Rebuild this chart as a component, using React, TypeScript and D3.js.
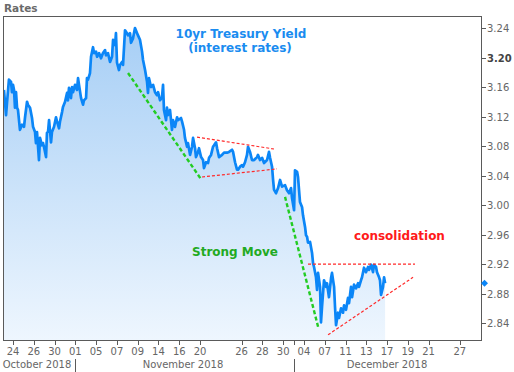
import React from 'react';
import * as d3 from 'd3';

// trading-day index (0 = Oct 24) and 10yr yield
const times = [-0.87,-0.67,-0.58,-0.39,-0.19,-0.10,0,0.10,0.19,0.29,0.39,0.48,0.67,0.87,1.06,1.16,1.35,1.44,1.64,1.83,1.93,2.12,2.21,2.31,2.50,2.60,2.79,2.89,2.98,3.18,3.27,3.37,3.47,3.66,3.75,3.95,4.14,4.24,4.43,4.52,4.72,4.81,5.01,5.20,5.29,5.39,5.58,5.68,5.78,5.97,6.16,6.26,6.35,6.55,6.74,6.83,7.03,7.12,7.22,7.41,7.51,7.70,7.80,7.99,8.09,8.28,8.47,8.66,8.86,8.95,9.14,9.34,9.53,9.63,9.82,9.91,10.01,10.20,10.30,10.49,10.59,10.78,10.97,11.07,11.26,11.36,11.55,11.74,11.94,12.03,12.22,12.42,12.51,12.71,12.90,12.99,13.09,13.28,13.48,13.67,13.86,13.96,14.15,14.34,14.44,14.53,14.73,14.82,14.92,15.11,15.30,15.40,15.59,15.79,15.88,16.17,16.27,16.46,16.55,16.75,16.84,17.04,17.23,17.33,17.52,17.61,17.81,17.90,18.10,18.29,18.38,18.58,18.77,18.87,19.06,19.25,19.35,19.54,19.64,19.83,20.12,20.31,20.60,20.79,21.08,21.18,21.37,21.56,21.66,21.85,22.04,22.14,22.33,22.52,22.62,22.81,23.00,23.20,23.49,23.58,23.77,23.97,24.16,24.45,24.64,24.74,24.93,25.03,25.12,25.31,25.51,25.70,25.89,26.18,26.37,26.57,26.76,26.85,27.05,27.14,27.34,27.43,27.62,27.82,27.91,28.11,28.20,28.30,28.39,28.59,28.78,28.88,28.97,29.16,29.26,29.36,29.55,29.64,29.74,29.93,30.13,30.22,30.41,30.61,30.70,30.90,30.99,31.09,31.28,31.38,31.57,31.76,31.86,32.05,32.24,32.34,32.53,32.63,32.82,33.01,33.21,33.30,33.49,33.59,33.78,33.97,34.17,34.26,34.46,34.65,34.74,34.94,35.03,35.23,35.32,35.42,35.61,35.71,35.81];
const yields = [3.156,3.122,3.138,3.170,3.167,3.153,3.163,3.156,3.132,3.153,3.132,3.129,3.102,3.109,3.106,3.119,3.140,3.136,3.132,3.118,3.106,3.099,3.084,3.099,3.061,3.091,3.081,3.084,3.079,3.065,3.098,3.099,3.115,3.085,3.099,3.106,3.119,3.113,3.104,3.113,3.126,3.133,3.140,3.152,3.142,3.159,3.145,3.160,3.153,3.163,3.156,3.172,3.163,3.145,3.136,3.142,3.145,3.172,3.170,3.179,3.201,3.214,3.206,3.208,3.201,3.206,3.199,3.206,3.210,3.203,3.206,3.194,3.201,3.224,3.217,3.233,3.193,3.183,3.190,3.194,3.190,3.237,3.233,3.230,3.233,3.220,3.226,3.240,3.233,3.230,3.224,3.208,3.197,3.183,3.167,3.152,3.172,3.160,3.163,3.153,3.149,3.153,3.142,3.146,3.163,3.129,3.115,3.132,3.122,3.129,3.102,3.115,3.106,3.119,3.115,3.118,3.113,3.102,3.091,3.079,3.084,3.068,3.079,3.091,3.077,3.065,3.072,3.077,3.065,3.061,3.050,3.058,3.057,3.064,3.068,3.079,3.081,3.085,3.077,3.065,3.068,3.071,3.071,3.072,3.075,3.072,3.058,3.048,3.048,3.052,3.054,3.052,3.058,3.068,3.079,3.072,3.061,3.061,3.065,3.068,3.061,3.064,3.057,3.061,3.072,3.064,3.052,3.034,3.021,3.016,3.023,3.034,3.025,3.027,3.020,3.016,3.023,3.010,2.993,3.047,3.045,3.038,3.004,2.997,2.986,2.970,2.959,2.957,2.949,2.950,2.935,2.921,2.916,2.902,2.885,2.908,2.889,2.841,2.862,2.898,2.889,2.894,2.875,2.901,2.908,2.889,2.862,2.837,2.854,2.847,2.860,2.854,2.864,2.858,2.874,2.867,2.889,2.875,2.892,2.887,2.894,2.889,2.898,2.902,2.915,2.909,2.916,2.912,2.919,2.909,2.919,2.916,2.909,2.902,2.898,2.878,2.889,2.902,2.894];

const yTicks = [2.84, 2.88, 2.92, 2.96, 3.0, 3.04, 3.08, 3.12, 3.16, 3.2, 3.24];
const boldTick = 3.2;
const xTickPos = [0, 2, 4, 6, 8, 10, 12, 14, 16, 18, 22, 24, 26, 28, 30, 32, 34, 36, 38, 40, 43];
const xTickLabels = ['24', '26', '30', '01', '05', '07', '09', '14', '16', '20', '26', '28', '30', '04', '07', '11', '13', '17', '19', '21', '27'];
const xExtraTicks = [27];
const monthLabels = ['October 2018', 'November 2018', 'December 2018'];
const monthCenters = [2.31, 16.36, 36.0];
const monthStarts = [6, 27];

// annotation segments: [t1, v1, t2, v2]
const greenLines = [
  [11.07, 3.179, 18.1, 3.035],
  [26.18, 3.011, 29.36, 2.835],
];
const redLines = [
  [17.71, 3.092, 25.12, 3.076],
  [18.19, 3.038, 25.41, 3.049],
  [28.39, 2.92, 38.69, 2.92],
  [30.32, 2.824, 38.5, 2.902],
];

const W = 514;
const H = 372;
const L = 4, R = 481, T = 16, B = 340;
const FONT = "'DejaVu Sans', Verdana, sans-serif";

export default function App() {
  const x = d3.scaleLinear().domain([-0.866, 45.04]).range([L, R]);
  const y = d3.scaleLinear().domain([2.817, 3.2563]).range([B, T]);
  const pts = times.map((t, i) => [t, yields[i]] as [number, number]);
  const line = d3.line<[number, number]>().x(d => x(d[0])).y(d => y(d[1]));
  const area = d3.area<[number, number]>().x(d => x(d[0])).y0(B).y1(d => y(d[1]));
  const last = yields[yields.length - 1];
  const dy = y(last);

  return (
    <svg width={W} height={H} style={{ position: 'absolute', left: 0, top: 0, background: '#fff' }}>
      <defs>
        <linearGradient id="fillg" gradientUnits="userSpaceOnUse" x1="0" y1={T} x2="0" y2={B}>
          <stop offset="0" stopColor="#a4cdf5" />
          <stop offset="1" stopColor="#eef6fe" />
        </linearGradient>
        <clipPath id="plotclip">
          <rect x={L} y={T} width={R - L} height={B - T} />
        </clipPath>
      </defs>
      <text x={4} y={12} fontFamily={FONT} fontWeight="bold" fontSize={10.5} fill="#6a6a6a">Rates</text>

      <g clipPath="url(#plotclip)">
        <path d={area(pts) || ''} fill="url(#fillg)" />
        <path d={line(pts) || ''} fill="none" stroke="#0b86f7" strokeWidth={2.7} strokeLinejoin="round" />
        {greenLines.map((s, i) => (
          <line key={'g' + i} x1={x(s[0])} y1={y(s[1])} x2={x(s[2])} y2={y(s[3])}
            stroke="#22cc22" strokeWidth={2.4} strokeDasharray="4,2.5" />
        ))}
        {redLines.map((s, i) => (
          <line key={'r' + i} x1={x(s[0])} y1={y(s[1])} x2={x(s[2])} y2={y(s[3])}
            stroke="#ff2a2a" strokeWidth={1.2} strokeDasharray="3,2" />
        ))}
      </g>

      <rect x={L - 0.5} y={T + 0.5} width={R - L + 1} height={B - T} fill="none" stroke="#5a5a5a" strokeWidth={1} />

      {yTicks.map(v => (
        <g key={'y' + v}>
          <line x1={R + 0.5} x2={R + 5} y1={Math.round(y(v)) + 0.5} y2={Math.round(y(v)) + 0.5} stroke="#5a5a5a" />
          <text x={487} y={y(v) + 4} fontFamily={FONT} fontSize={10} fill={v === boldTick ? '#444' : '#666'}
            fontWeight={v === boldTick ? 'bold' : 'normal'}>{v.toFixed(2)}</text>
        </g>
      ))}
      <path d={`M${R},${dy} l3.5,-3.5 l3.5,3.5 l-3.5,3.5 z`} fill="#0b86f7" />

      {xTickPos.map((t, i) => (
        <g key={'x' + i}>
          <line x1={Math.round(x(t)) + 0.5} x2={Math.round(x(t)) + 0.5} y1={B + 1} y2={B + 5} stroke="#5a5a5a" />
          <text x={x(t)} y={355} textAnchor="middle" fontFamily={FONT} fontSize={10} fill="#666">{xTickLabels[i]}</text>
        </g>
      ))}
      {xExtraTicks.map(t => (
        <line key={'xe' + t} x1={Math.round(x(t)) + 0.5} x2={Math.round(x(t)) + 0.5} y1={B + 1} y2={B + 5} stroke="#5a5a5a" />
      ))}
      {monthLabels.map((m, i) => (
        <text key={m} x={x(monthCenters[i])} y={368} textAnchor="middle" fontFamily={FONT} fontSize={10} fill="#666">{m}</text>
      ))}
      {monthStarts.map(t => (
        <line key={'ms' + t} x1={Math.round(x(t)) + 0.5} x2={Math.round(x(t)) + 0.5} y1={359} y2={372} stroke="#5a5a5a" />
      ))}

      <text x={241} y={37.5} textAnchor="middle" fontFamily={FONT} fontWeight="bold" fontSize={12} fill="#1a8cf0">10yr Treasury Yield</text>
      <text x={240} y={51.5} textAnchor="middle" fontFamily={FONT} fontWeight="bold" fontSize={12} fill="#1a8cf0">(interest rates)</text>
      <text x={235} y={255.5} textAnchor="middle" fontFamily={FONT} fontWeight="bold" fontSize={12} fill="#22aa22">Strong Move</text>
      <text x={399.5} y={239.5} textAnchor="middle" fontFamily={FONT} fontWeight="bold" fontSize={12} fill="#ff1a1a">consolidation</text>
    </svg>
  );
}
